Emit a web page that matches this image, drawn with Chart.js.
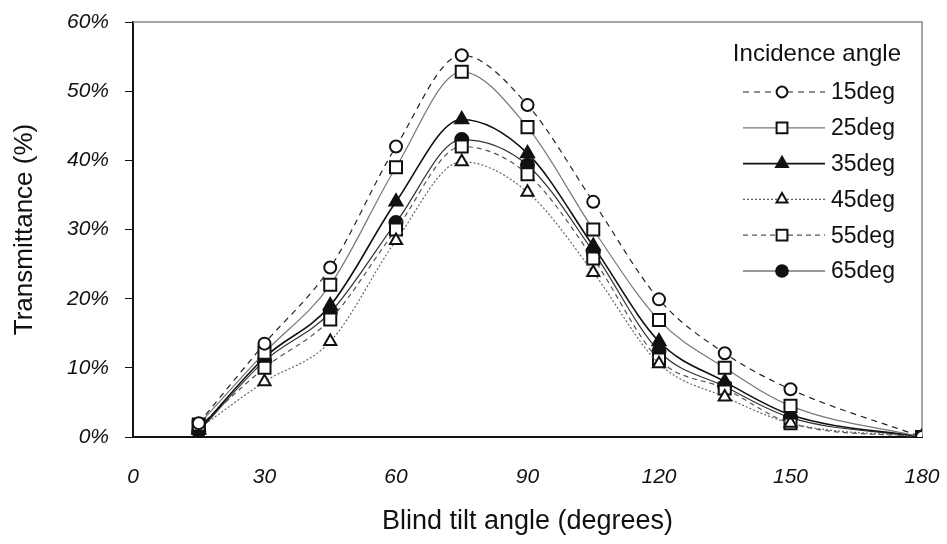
<!DOCTYPE html>
<html>
<head>
<meta charset="utf-8">
<script src="https://cdn.jsdelivr.net/npm/chart.js@4.4.1/dist/chart.umd.min.js"></script>
<style>
  html, body { margin:0; padding:0; background:#fff; }
  #wrap { position:relative; width:947px; height:544px; }
</style>
</head>
<body>
<div id="wrap"><canvas id="c" width="947" height="544"></canvas></div>
<script>
// blind tilt angle (deg)
const tiltAngles = [15, 30, 45, 60, 75, 90, 105, 120, 135, 150, 180]
const seriesLabels = ['15deg', '25deg', '35deg', '45deg', '55deg', '65deg']
// transmittance (%) per incidence angle
const t15 = [2.0, 13.5, 24.5, 42.0, 55.2, 48.0, 34.0, 19.9, 12.1, 6.9, 0]
const t25 = [1.8, 12.2, 22.0, 39.0, 52.8, 44.8, 30.0, 16.9, 10.0, 4.5, 0]
const t35 = [1.0, 11.5, 19.0, 34.0, 45.9, 41.0, 27.6, 13.8, 8.0, 3.2, 0]
const t45 = [1.2, 8.0, 13.8, 28.4, 39.8, 35.4, 23.8, 10.6, 5.8, 2.0, 0]
const t55 = [1.5, 10.0, 17.0, 30.0, 42.0, 38.0, 25.8, 11.2, 7.0, 2.0, 0]
const t65 = [0.8, 11.0, 18.0, 31.0, 43.0, 39.3, 26.8, 12.4, 7.3, 2.8, 0]
const yTicks = [0, 10, 20, 30, 40, 50, 60]
const xTicks = [0, 30, 60, 90, 120, 150, 180]

const FONT = '"Liberation Sans", Arial, sans-serif'

const styles = [
  { c:'#222', w:1.2, dash:[6,5], ps:'circle',   r:6,   fill:'#fff' },
  { c:'#777', w:1.2, dash:[],    ps:'rect',     r:8.5, fill:'#fff' },
  { c:'#111', w:1.6, dash:[],    ps:'triangle', r:7.5, fill:'#111' },
  { c:'#666', w:1.2, dash:[2,2], ps:'triangle', r:7,   fill:'#fff' },
  { c:'#555', w:1.2, dash:[5,4], ps:'rect',     r:8.5, fill:'#fff' },
  { c:'#333', w:1.2, dash:[],    ps:'circle',   r:6.5, fill:'#111' },
]
const values = [t15, t25, t35, t45, t55, t65]

const datasets = values.map((vals, i) => {
  const s = styles[i]
  return {
    label: seriesLabels[i],
    data: tiltAngles.map((x, k) => ({ x, y: vals[k] })),
    borderColor: s.c, borderWidth: s.w, borderDash: s.dash,
    tension: 0.4, cubicInterpolationMode: 'monotone',
    pointStyle: s.ps, pointRadius: s.r, pointBorderWidth: 2,
    pointBorderColor: '#111', pointBackgroundColor: s.fill,
    fill: false,
  }
})

const framePlugin = {
  id: 'frame',
  beforeDatasetsDraw(chart) {
    const { ctx, chartArea: a } = chart
    ctx.save()
    ctx.strokeStyle = '#888'
    ctx.lineWidth = 1.5
    ctx.beginPath()
    ctx.moveTo(a.left, a.top); ctx.lineTo(a.right, a.top); ctx.lineTo(a.right, a.bottom)
    ctx.stroke()
    ctx.restore()
  }
}

const legendPlugin = {
  id: 'innerLegend',
  afterDraw(chart) {
    const { ctx } = chart
    ctx.save()
    ctx.fillStyle = '#111'
    ctx.font = '24px ' + FONT
    ctx.textBaseline = 'middle'
    ctx.textAlign = 'right'
    ctx.fillText('Incidence angle', 901, 54)
    ctx.textAlign = 'left'
    chart.data.datasets.forEach((ds, i) => {
      const y = 92 + i * 35.8
      ctx.save()
      ctx.strokeStyle = ds.borderColor
      ctx.lineWidth = ds.borderWidth
      ctx.setLineDash(ds.borderDash)
      ctx.beginPath(); ctx.moveTo(743, y); ctx.lineTo(825, y); ctx.stroke()
      ctx.restore()
      ctx.save()
      ctx.strokeStyle = ds.pointBorderColor
      ctx.fillStyle = ds.pointBackgroundColor
      ctx.lineWidth = 2
      Chart.helpers.drawPoint(ctx, { pointStyle: ds.pointStyle, radius: ds.pointRadius * 0.9, borderWidth: 2, rotation: 0 }, 782, y)
      ctx.restore()
      ctx.fillStyle = '#111'
      ctx.font = '23px ' + FONT
      ctx.fillText(ds.label, 831, y + 1)
    })
    ctx.restore()
  }
}

new Chart(document.getElementById('c'), {
  type: 'line',
  data: { datasets },
  plugins: [framePlugin, legendPlugin],
  options: {
    responsive: false, animation: false,
    layout: { padding: { left: 5, right: 25, top: 22, bottom: 2 } },
    plugins: { legend: { display: false }, tooltip: { enabled: false } },
    scales: {
      x: {
        type: 'linear', min: 0, max: 180,
        afterBuildTicks: ax => { ax.ticks = xTicks.map(v => ({ value: v })) },
        afterFit: ax => { ax.height = 105; ax.paddingLeft = 0; ax.paddingRight = 0 },
        grid: { display: false, drawOnChartArea: false, drawTicks: true, tickLength: 8, color: '#111' },
        border: { display: true, color: '#111', width: 2 },
        ticks: { color: '#111', padding: 20, maxRotation: 0, font: { family: FONT, size: 21, style: 'italic' } },
        title: { display: true, text: 'Blind tilt angle (degrees)', color: '#111', font: { family: FONT, size: 27 } }
      },
      y: {
        min: 0, max: 60,
        afterBuildTicks: ax => { ax.ticks = yTicks.map(v => ({ value: v })) },
        afterFit: ax => { ax.width = 128; ax.paddingTop = 0; ax.paddingBottom = 0 },
        grid: { display: true, drawOnChartArea: false, drawTicks: true, tickLength: 8, color: '#111' },
        border: { display: true, color: '#111', width: 2 },
        ticks: { color: '#111', padding: 16, callback: v => v + '%', font: { family: FONT, size: 21, style: 'italic' } },
        title: { display: true, text: 'Transmittance (%)', color: '#111', font: { family: FONT, size: 26 } }
      }
    }
  }
})
</script>
</body>
</html>
